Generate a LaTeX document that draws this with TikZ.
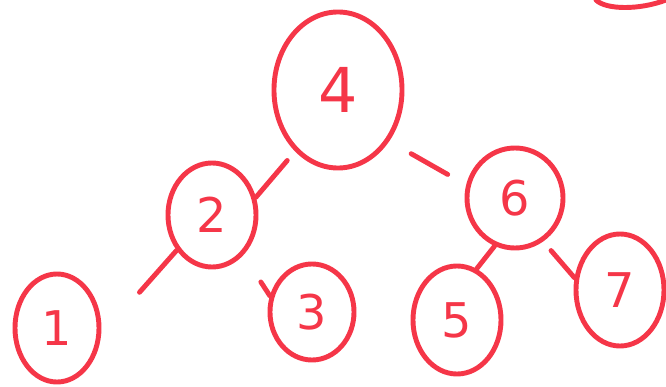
\documentclass[tikz,border=0pt]{standalone}
\usepackage{fontspec}
\setsansfont{DejaVu Sans}
\usepackage{tikz}
\usetikzlibrary{shapes.geometric,positioning}
\definecolor{inkred}{RGB}{245,54,72}
\tikzset{
  treenode/.style ={draw=inkred,ellipse,line width=3.5pt,inner sep=0pt,text=inkred,
                    font=\sffamily\fontsize{34}{34}\selectfont},
  edge/.style     ={draw=inkred,line width=3.5pt,line cap=round}
}
\begin{document}
\begin{tikzpicture}[x=0.025cm,y=-0.025cm]
    \useasboundingbox (0,0) rectangle (666,387);
    \node[treenode,minimum width=3.2cm,minimum height=3.9cm,font=\sffamily\fontsize{44}{44}\selectfont] (n4) at (338,90)  {4};
    \node[treenode,minimum width=2.2cm,minimum height=2.6cm] (n2) at (212,215) {2};
    \node[treenode,minimum width=2.4cm,minimum height=2.5cm] (n6) at (515,198) {6};
    \node[treenode,minimum width=2.1cm,minimum height=2.7cm] (n1) at (57,328)  {1};
    \node[treenode,minimum width=2.1cm,minimum height=2.4cm] (n3) at (312,312) {3};
    \node[treenode,minimum width=2.2cm,minimum height=2.7cm] (n5) at (457,320) {5};
    \node[treenode,minimum width=2.2cm,minimum height=2.8cm] (n7) at (620,290) {7};
    % edges
    \draw[edge,shorten <=0.3cm] (n4.235) -- (n2.22);
    \draw[edge,shorten <=0.63cm,shorten >=0.53cm] (n4.-45) -- (n6.165);
    \draw[edge,shorten >=1.45cm] (n2.225) -- (n1.-10);
    \draw[edge,shorten <=0.8cm] (n2.-52) -- (n3.159);
    \draw[edge] (n6.247) -- (n5.69);
    \draw[edge,shorten <=0.3cm] (n6.-57) -- (n7.165);
    % partial shape at the corner
    \draw[edge] (596,0) .. controls (606,10) and (640,10) .. (666,0);
\end{tikzpicture}
\end{document}
